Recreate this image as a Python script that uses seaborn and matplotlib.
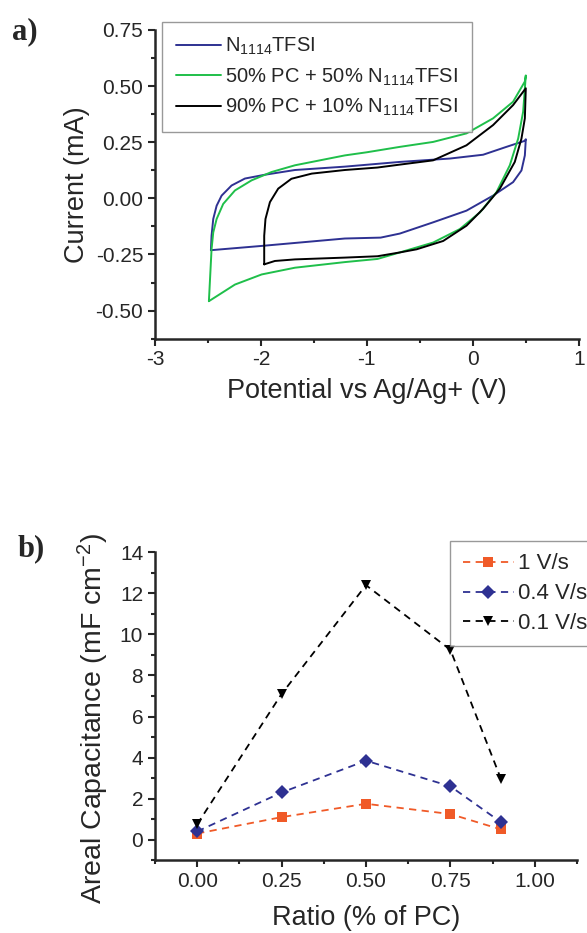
import pandas as pd
import matplotlib
matplotlib.use('Agg')
import matplotlib.pyplot as plt
from matplotlib.ticker import MultipleLocator, FormatStrFormatter
import seaborn as sns

# ---- panel a: CV loops (potential V, current mA) ----
blue_E = [-2.472, -2.466, -2.45, -2.418, -2.371, -2.277, -2.151, -1.962, -1.679, -1.208, -0.689,
          -0.217, 0.097, 0.317, 0.491, 0.5,
          0.491, 0.459, 0.38, 0.191, -0.06, -0.375, -0.689, -0.87, -1.208, -1.993, -2.472]
blue_I = [-0.231, -0.167, -0.092, -0.033, 0.012, 0.057, 0.088, 0.105, 0.126, 0.141, 0.162,
          0.177, 0.194, 0.229, 0.256, 0.263,
          0.191, 0.124, 0.072, 0.012, -0.055, -0.107, -0.157, -0.175, -0.179, -0.212, -0.231]

green_E = [-2.491, -2.466, -2.45, -2.418, -2.356, -2.245, -2.088, -1.90, -1.679, -1.208, -1.0, -0.689,
           -0.375, -0.06, 0.191, 0.38, 0.491, 0.5,
           0.475, 0.428, 0.349, 0.223, 0.066, -0.123, -0.375, -0.689, -0.9, -1.208, -1.679, -1.993,
           -2.245, -2.491]
green_I = [-0.458, -0.227, -0.152, -0.092, -0.025, 0.035, 0.08, 0.117, 0.147, 0.191, 0.205, 0.229,
           0.251, 0.289, 0.356, 0.43, 0.52, 0.547,
           0.386, 0.266, 0.147, 0.027, -0.063, -0.137, -0.197, -0.241, -0.27, -0.284, -0.309, -0.339,
           -0.384, -0.458]

black_E = [-1.969, -1.969, -1.957, -1.915, -1.837, -1.712, -1.52, -1.208, -0.9, -0.689, -0.375,
           -0.06, 0.191, 0.38, 0.5,
           0.491, 0.459, 0.396, 0.255, 0.097, -0.06, -0.28, -0.53, -0.689, -0.9, -1.208, -1.679,
           -1.868, -1.969]
black_I = [-0.294, -0.167, -0.092, -0.017, 0.043, 0.087, 0.11, 0.126, 0.137, 0.150, 0.169,
           0.236, 0.326, 0.415, 0.49,
           0.356, 0.266, 0.162, 0.043, -0.047, -0.122, -0.19, -0.227, -0.241, -0.258, -0.264, -0.272,
           -0.279, -0.294]

cv_labels = [r'N$_{1114}$TFSI', r'50% PC + 50% N$_{1114}$TFSI', r'90% PC + 10% N$_{1114}$TFSI']
cv_colors = ['#2e3192', '#1fbf4a', '#000000']

# ---- panel b: areal capacitance ----
ratio = [0.0, 0.25, 0.5, 0.75, 0.9]
cap_1 = [0.3, 1.1, 1.75, 1.25, 0.5]
cap_04 = [0.4, 2.3, 3.85, 2.6, 0.85]
cap_01 = [0.75, 7.1, 12.4, 9.25, 2.95]
rate_labels = ['1 V/s', '0.4 V/s', '0.1 V/s']
rate_colors = ['#f05a28', '#2e3192', '#000000']
rate_markers = ['s', 'D', 'v']

sns.set_style('ticks')
plt.rcParams['font.family'] = ['Liberation Sans', 'DejaVu Sans']
plt.rcParams['mathtext.fontset'] = 'custom'
plt.rcParams['mathtext.rm'] = 'Liberation Sans'
plt.rcParams['mathtext.it'] = 'Liberation Sans:italic'
plt.rcParams['axes.unicode_minus'] = False

fig = plt.figure(figsize=(5.87, 9.33), dpi=100)
ax1 = fig.add_axes([0.264, 0.637, 0.722, 0.331])
ax2 = fig.add_axes([0.264, 0.078, 0.719, 0.330])

cv = pd.concat([
    pd.DataFrame({'E': E, 'I': I, 'sample': lab})
    for E, I, lab in zip([blue_E, green_E, black_E], [blue_I, green_I, black_I], cv_labels)
])
sns.lineplot(data=cv, x='E', y='I', hue='sample', sort=False, estimator=None,
             palette=cv_colors, lw=1.4, ax=ax1)

cap = pd.DataFrame({
    'ratio': ratio * 3,
    'cap': cap_1 + cap_04 + cap_01,
    'rate': [r for r in rate_labels for _ in ratio],
})
sns.lineplot(data=cap, x='ratio', y='cap', hue='rate', style='rate', markers=rate_markers,
             dashes=[(4, 3)] * 3, palette=rate_colors, lw=1.3, markersize=7,
             markeredgewidth=0, ax=ax2)

for ax in (ax1, ax2):
    sns.despine(ax=ax)
    for s in ('left', 'bottom'):
        ax.spines[s].set_linewidth(1.8)
    ax.tick_params(which='major', direction='out', length=5, width=1.5, labelsize=15)
    ax.tick_params(which='minor', direction='out', length=3, width=1.5)

ax1.set_xlim(-3, 1)
ax1.set_ylim(-0.625, 0.75)
ax1.xaxis.set_major_locator(MultipleLocator(1))
ax1.xaxis.set_minor_locator(MultipleLocator(0.5))
ax1.yaxis.set_major_locator(MultipleLocator(0.25))
ax1.yaxis.set_minor_locator(MultipleLocator(0.125))
ax1.yaxis.set_major_formatter(FormatStrFormatter('%.2f'))
ax1.set_xlabel('Potential vs Ag/Ag+ (V)', fontsize=19.5, labelpad=6)
ax1.set_ylabel('Current (mA)', fontsize=19.5, labelpad=4)
leg1 = ax1.legend(loc='upper left', bbox_to_anchor=(0.017, 1.026), borderaxespad=0,
                  fontsize=14.5, frameon=True, fancybox=False, edgecolor='#808080',
                  handlelength=2.2, handletextpad=0.2, labelspacing=0.45, borderpad=0.7)
leg1.get_frame().set_linewidth(1.0)

ax2.set_xlim(-0.125, 1.125)
ax2.set_ylim(-1, 14)
ax2.xaxis.set_major_locator(MultipleLocator(0.25))
ax2.xaxis.set_minor_locator(MultipleLocator(0.125))
ax2.xaxis.set_major_formatter(FormatStrFormatter('%.2f'))
ax2.yaxis.set_major_locator(MultipleLocator(2))
ax2.yaxis.set_minor_locator(MultipleLocator(1))
ax2.set_xlabel('Ratio (% of PC)', fontsize=19.5, labelpad=10)
ax2.set_ylabel(r'Areal Capacitance (mF cm$^{-2}$)', fontsize=20.5)
ax2.yaxis.set_label_coords(-0.105, 0.46)
leg2 = ax2.legend(loc='upper left', bbox_to_anchor=(0.70, 1.036), borderaxespad=0,
                  fontsize=16, frameon=True, fancybox=False, edgecolor='#808080',
                  handlelength=2.3, handletextpad=0.2, labelspacing=0.4, borderpad=0.55)
leg2.get_frame().set_linewidth(1.0)

fig.text(0.02, 0.966, 'a)', family='Liberation Serif', weight='bold', fontsize=22, va='center')
fig.text(0.03, 0.412, 'b)', family='Liberation Serif', weight='bold', fontsize=22, va='center')

fig.savefig('out.png', dpi=100)
